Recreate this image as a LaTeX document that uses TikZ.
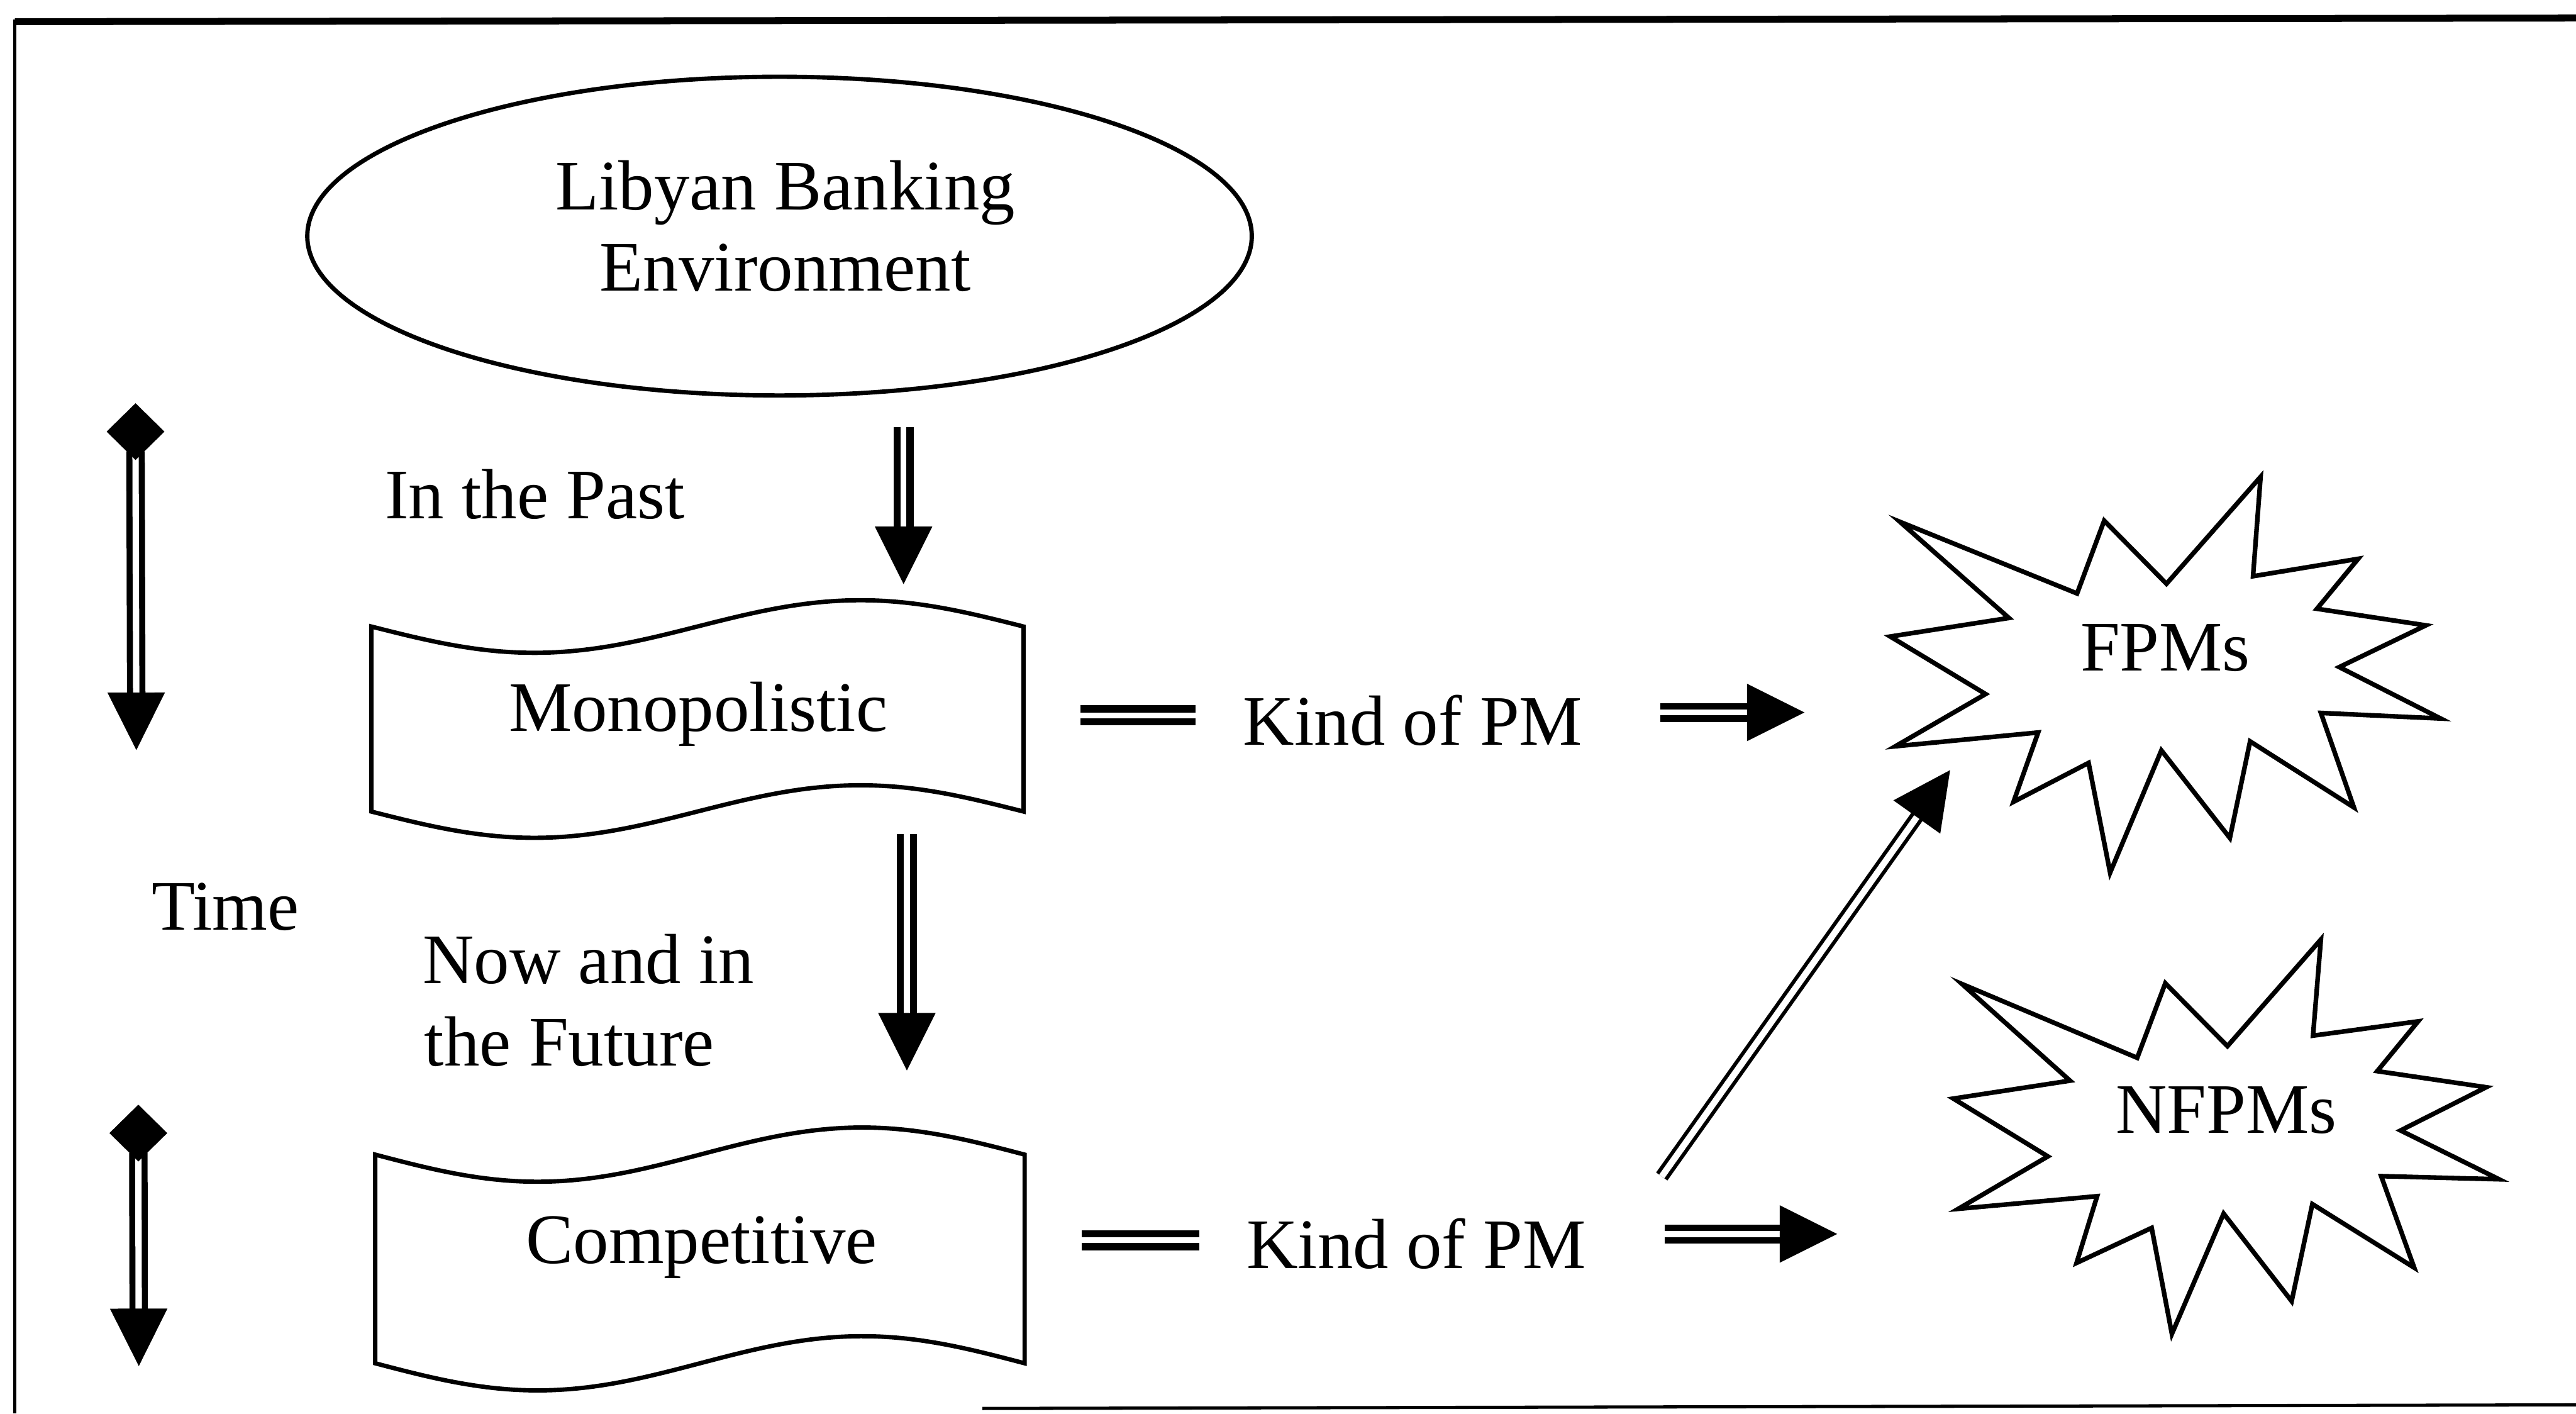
\documentclass[tikz,border=0pt]{standalone}
\usepackage{fontspec}
\setmainfont{Liberation Serif}
\usetikzlibrary{calc,shapes.geometric}

% arrow head size
\newlength\tiplen
\newlength\tipinner
\newlength\tiphalf
\setlength\tiplen{0.70cm}
\setlength\tipinner{0.66cm}
\setlength\tiphalf{0.35cm}

% double-lined arrow with a solid triangular head: #1 shaft style, #2 start, #3 tip
\newcommand\dblarrow[3]{%
  \coordinate (tipbase) at ($(#3)!\tiplen!(#2)$);
  \draw[#1] (#2) -- ($(#3)!\tipinner!(#2)$);
  \fill ($(tipbase)!\tiphalf!90:(#3)$) -- (#3) -- ($(tipbase)!\tiphalf!-90:(#3)$) -- cycle;
}

% time axis arrow: diamond at #1, head at #2
\newcommand\timearrow[2]{%
  \coordinate (shafttop) at ($(#1)+(0,12)$);
  \dblarrow{shaftt}{shafttop}{#2}
  \fill ($(#1)+(0,-17.3)$) -- ($(#1)+(17.6,0)$) -- ($(#1)+(0,17.3)$) -- ($(#1)+(-17.6,0)$) -- cycle;
}

% waving banner: #1 left x, #2 top y, #3 width, #4 height, #5 wave amplitude
\newcommand\banner[5]{%
  \pgfmathsetmacro\bnA{#1}%
  \pgfmathsetmacro\bnB{#1+#3}%
  \draw[outline] plot[domain=\bnA:\bnB, samples=100] (\x, {#2 + #5*sin((\x-#1)/#3*360)})
    -- plot[domain=\bnB:\bnA, samples=100] (\x, {#2 + #4 + #5*sin((\x-#1)/#3*360)})
    -- cycle;
}

\begin{document}
\begin{tikzpicture}[x=0.02cm, y=-0.02cm,
  outline/.style={line width=1.5pt, line join=miter},
  starline/.style={line width=1.6pt, line join=miter},
  txt/.style={font=\fontsize{24.6}{28}\selectfont, inner sep=0pt},
  shaftv/.style={draw, line width=2.5pt, double=white, double distance=2pt},
  shaftt/.style={draw, line width=2.1pt, double=white, double distance=2.2pt},
  shafth/.style={draw, line width=2.2pt, double=white, double distance=2.1pt},
  eqbar/.style={draw, line width=2.5pt, double=white, double distance=2pt},
  shaftd/.style={draw, line width=1.3pt, double=white, double distance=2.2pt},
]
\fill[white] (0,0) rectangle (1568,860.35);
\useasboundingbox (0,0) rectangle (1568,860.35);

% frame
\draw[line width=2.4pt] (9,13.2) -- (1568,11);
\draw[line width=1pt] (9,12) -- (9,860.35);
\draw[line width=1.1pt] (598,857.2) -- (1568,855);

% banking environment
\node[draw, ellipse, line width=1.5pt, minimum width=11.5cm, minimum height=3.88cm,
      inner sep=0pt] (env) at (474.5,143.7) {};
\node[txt, anchor=base] (envA) at (478,127.6) {Libyan Banking};
\node[txt, anchor=base] (envB) at (478,177) {Environment};

% market stages
\banner{226}{381.3}{397}{112.6}{16}
\node[txt, anchor=base] (mono) at (425,445) {Monopolistic};
\banner{228.4}{702.7}{395.3}{127}{16.5}
\node[txt, anchor=base] (comp) at (427,769) {Competitive};

% period labels
\node[txt, anchor=base west] (past) at (234,315.6) {In the Past};
\node[txt, anchor=base west] (nowA) at (257,598.4) {Now and in};
\node[txt, anchor=base west] (nowB) at (258,648.8) {the Future};
\node[txt, anchor=base west] (time) at (92,566) {Time};

% kinds of performance measures
\node[txt, anchor=base west] (kindA) at (756.4,453.5) {Kind of PM};
\node[txt, anchor=base west] (kindB) at (758.5,771.9) {Kind of PM};

\draw[starline] (1156.5,317.6) -- (1264.3,361.2) -- (1280.8,316.9) -- (1318.7,355.3)
  -- (1376,290.2) -- (1371.4,350.7) -- (1435.4,340.1) -- (1410.3,370.5)
  -- (1476.6,380.6) -- (1423.9,406) -- (1485.6,437.3) -- (1412.7,433.9)
  -- (1432.8,491.4) -- (1369.6,451.2) -- (1357.3,510) -- (1315.6,456.7)
  -- (1284.4,531.1) -- (1271.3,464.3) -- (1225.6,488) -- (1240.6,445.8)
  -- (1153.7,454.2) -- (1208.6,422.4) -- (1150.6,387.4) -- (1222.8,376.1) -- cycle;
\node[txt, anchor=base] (fpm) at (1318,408.3) {FPMs};

\draw[starline] (1194.3,598.9) -- (1300.9,643.8) -- (1318,598.4) -- (1355.8,636.7)
  -- (1412.7,571.8) -- (1407.9,630.3) -- (1471.9,621.6) -- (1447,651.9)
  -- (1513.3,661.7) -- (1461.2,688) -- (1521.1,717.7) -- (1449.4,715.8)
  -- (1469.5,771.5) -- (1407.5,732.8) -- (1394.9,791.9) -- (1353.5,738.6)
  -- (1322,811.8) -- (1309.7,747.3) -- (1264,768.6) -- (1276.5,728)
  -- (1192,735.7) -- (1246.5,703.8) -- (1189,668.6) -- (1260,657.7) -- cycle;
\node[txt, anchor=base] (nfpm) at (1355.2,689.8) {NFPMs};

% connector end points
\coordinate (envout) at (550,260);
\coordinate (monoin) at (550,355.5);
\coordinate (monoout) at (552,507.5);
\coordinate (compin) at (552,651.5);
\coordinate (monoeqA) at (657.5,435.4);
\coordinate (monoeqB) at (727.6,435.4);
\coordinate (kindAout) at (1010.7,433.6);
\coordinate (fpmin) at (1098.4,433.6);
\coordinate (compeqA) at (658.6,754.8);
\coordinate (compeqB) at (730,754.8);
\coordinate (kindBout) at (1013.3,751);
\coordinate (nfpmin) at (1118.3,751);
\coordinate (kindBup) at (1011.5,716);
\coordinate (fpmlow) at (1187,468.7);
\coordinate (pastmark) at (82.5,262.7);
\coordinate (pastend) at (83,456.5);
\coordinate (nowmark) at (84.2,689.6);
\coordinate (nowend) at (84.5,831.4);

% connectors
\dblarrow{shaftv}{envout}{monoin}
\dblarrow{shaftv}{monoout}{compin}
\draw[eqbar] (monoeqA) -- (monoeqB);
\dblarrow{shafth}{kindAout}{fpmin}
\draw[eqbar] (compeqA) -- (compeqB);
\dblarrow{shafth}{kindBout}{nfpmin}
\dblarrow{shaftd}{kindBup}{fpmlow}

% time axis
\timearrow{pastmark}{pastend}
\timearrow{nowmark}{nowend}
\end{tikzpicture}
\end{document}
